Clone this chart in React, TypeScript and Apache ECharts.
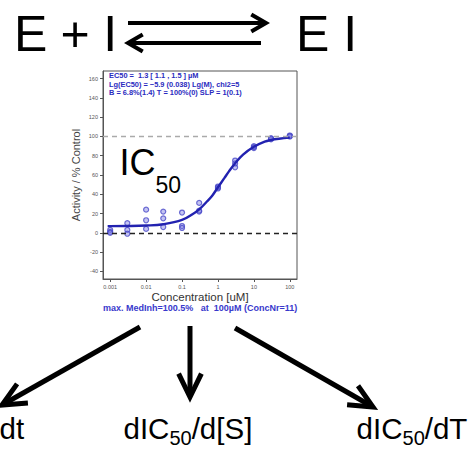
import React, { useEffect, useRef } from 'react';
import * as echarts from 'echarts';

// ---- data ----
const concentrations = [0.001, 0.003, 0.01, 0.03, 0.1, 0.3, 1, 3, 10, 30, 100];
const replicateA = [3, 10, 24, 22, 21, 31, 46, 75, 88, 98, 100.5];
const replicateB = [1, 3, 13, 15, 7, 22, 48, 68, 90, 97, 101];
const replicateC = [0, -1, 4, 6, 5, 23, 47, 72, 89, 98, 100];

const fitConc = [0.00085, 0.001, 0.003, 0.01, 0.03, 0.1, 0.2, 0.3, 0.5, 0.7, 1, 1.5, 2, 3, 5, 10, 20, 30, 50, 100];
const fitActivity = [6.9, 6.9, 7.0, 7.5, 8.9, 13.3, 19.5, 24.3, 32.7, 38.8, 47.3, 56.7, 63.5, 72.2, 81.2, 89.3, 94.6, 96.3, 97.6, 98.8];

const yTicks = [-40, -20, 0, 20, 40, 60, 80, 100, 120, 140, 160];
const xTickConc = [0.001, 0.01, 0.1, 1, 10, 100];
const xTickLabels = ['0.001', '0.01', '0.1', '1', '10', '100'];
const refLines = [0, 100];

const infoLines = [
  'EC50 =  1.3 [ 1.1 , 1.5 ] µM',
  'Lg(EC50) = −5.9 (0.038) Lg(M), chi2=5',
  'B = 6.8%(1.4) T = 100%(0) SLP = 1(0.1)',
];
const footerText = 'max. MedInh=100.5%   at  100µM (ConcNr=11)';

const FONT = '"Liberation Sans", Arial, Helvetica, sans-serif';
const BLUE = '#2a2ac0';

let measureCtx: CanvasRenderingContext2D | null = null;
function textWidth(t: string, size: number): number {
  if (!measureCtx) measureCtx = document.createElement('canvas').getContext('2d');
  if (!measureCtx) return t.length * size * 0.55;
  measureCtx.font = `${size}px "Liberation Sans", Arial, sans-serif`;
  return measureCtx.measureText(t).width;
}

// text positioned by its alphabetic baseline
function txt(t: string, x: number, baseline: number, size: number, extra: any = {}) {
  return {
    type: 'text',
    x,
    y: baseline - 0.3465 * size,
    style: {
      text: t,
      fontSize: size,
      fontFamily: FONT,
      fill: '#000',
      align: 'left',
      verticalAlign: 'middle',
      ...extra,
    },
  };
}

// pieces: [text, size, baselineShift]
function richRun(pieces: [string, number, number][], x: number, baseline: number) {
  let cx = x;
  const out: any[] = [];
  pieces.forEach((p) => {
    out.push(txt(p[0], cx, baseline + p[2], p[1]));
    cx += textWidth(p[0], p[1]);
  });
  return out;
}

function arrow(x1: number, y1: number, x2: number, y2: number, w: number, head: number, halfDeg: number) {
  const ang = Math.atan2(y1 - y2, x1 - x2);
  const h = (halfDeg * Math.PI) / 180;
  const p1 = [x2 + head * Math.cos(ang + h), y2 + head * Math.sin(ang + h)];
  const p2 = [x2 + head * Math.cos(ang - h), y2 + head * Math.sin(ang - h)];
  const back = w * 0.6;
  return [
    {
      type: 'line',
      shape: { x1, y1, x2: x2 + back * Math.cos(ang), y2: y2 + back * Math.sin(ang) },
      style: { stroke: '#000', lineWidth: w },
    },
    {
      type: 'polyline',
      shape: { points: [p1, [x2, y2], p2] },
      style: { stroke: '#000', lineWidth: w, fill: null, lineJoin: 'miter' },
    },
  ];
}

export default function App() {
  const ref = useRef<HTMLDivElement>(null);

  useEffect(() => {
    if (!ref.current) return;
    const chart = echarts.init(ref.current, null, { renderer: 'svg' });

    const points: [number, number][] = [];
    [replicateA, replicateB, replicateC].forEach((rep) => {
      rep.forEach((v, i) => points.push([Math.log10(concentrations[i]), v]));
    });
    const fit = fitConc.map((c, i) => [Math.log10(c), fitActivity[i]]);

    const graphics: any[] = [
      // equilibrium
      txt('E', 14, 51.7, 50),
      txt('+', 60.5, 51.7, 50),
      txt('I', 103.3, 51.7, 50),
      txt('E', 296, 51.7, 50),
      txt('I', 343.3, 51.7, 50),
      ...arrow(128, 23, 266, 23, 4, 17, 30),
      ...arrow(261, 43, 128, 43, 4, 17, 30),
      // IC50
      ...richRun([['IC', 36, 0], ['50', 23, 18]], 119.5, 175),
      // info text in plot
      ...infoLines.map((l, i) => txt(l, 109, 78.5 + i * 8.2, 7.4, { fill: BLUE, fontWeight: 'bold' })),
      txt(footerText, 103, 311.5, 9, { fill: '#3838cc', fontWeight: 'bold' }),
      // bottom arrows
      ...arrow(140, 327, 2, 405, 5, 26, 25),
      ...arrow(190, 326, 190, 397, 5, 26, 26),
      ...arrow(235, 328, 373, 407, 5, 26, 25),
      // bottom labels
      txt('dt', -0.5, 438.3, 29.5),
      ...richRun([['dIC', 29.5, 0], ['50', 20, 6.7], ['/d[S]', 29.5, 0]], 123.5, 438.3),
      ...richRun([['dIC', 29.5, 0], ['50', 20, 6.7], ['/dT', 29.5, 0]], 356.6, 438.3),
    ];

    const option: any = {
      animation: false,
      backgroundColor: '#fff',
      grid: {
        left: 103,
        top: 71,
        width: 194,
        height: 208,
        show: true,
        borderColor: '#555',
        borderWidth: 1,
        backgroundColor: 'transparent',
      },
      xAxis: {
        type: 'value',
        min: -3.2,
        max: 2.2,
        name: 'Concentration [uM]',
        nameLocation: 'middle',
        nameGap: 12,
        nameTextStyle: { fontSize: 11.5, color: '#333', fontFamily: FONT },
        axisLine: { show: true, onZero: false, lineStyle: { color: '#555', width: 1 } },
        axisTick: {
          show: true,
          length: 3,
          inside: false,
          customValues: xTickConc.map((c) => Math.log10(c)),
          lineStyle: { color: '#555' },
        },
        axisLabel: {
          show: true,
          fontSize: 5.5,
          color: '#555',
          fontFamily: FONT,
          margin: 5,
          customValues: xTickConc.map((c) => Math.log10(c)),
          formatter: (v: number) => {
            const i = xTickConc.findIndex((c) => Math.abs(Math.log10(c) - v) < 1e-6);
            return i >= 0 ? xTickLabels[i] : '';
          },
        },
        splitLine: { show: false },
      },
      yAxis: {
        type: 'value',
        min: -48,
        max: 168,
        name: 'Activity / % Control',
        nameLocation: 'middle',
        nameGap: 22,
        nameRotate: 90,
        nameTextStyle: { fontSize: 11, color: '#444', fontFamily: FONT },
        axisLine: { show: true, onZero: false, lineStyle: { color: '#555', width: 1 } },
        axisTick: { show: true, length: 3, customValues: yTicks, lineStyle: { color: '#555' } },
        axisLabel: {
          show: true,
          fontSize: 5.5,
          color: '#555',
          fontFamily: FONT,
          margin: 5,
          customValues: yTicks,
        },
        splitLine: { show: false },
      },
      series: [
        {
          type: 'scatter',
          data: points,
          symbol: 'circle',
          symbolSize: 5,
          itemStyle: { color: 'rgba(120,120,225,0.55)', borderColor: '#4a4ac8', borderWidth: 1.2 },
          z: 2,
          markLine: {
            silent: true,
            symbol: ['none', 'none'],
            label: { show: false },
            data: [
              { yAxis: refLines[0], lineStyle: { color: '#222', type: [5, 4], width: 1.4 } },
              { yAxis: refLines[1], lineStyle: { color: '#aaa', type: [5, 4], width: 1.4 } },
            ],
          },
        },
        {
          type: 'line',
          data: fit,
          smooth: 0.4,
          symbol: 'none',
          lineStyle: { color: '#2222b0', width: 2.4 },
          z: 3,
        },
      ],
      graphic: graphics,
    };

    chart.setOption(option);
    return () => chart.dispose();
  }, []);

  return (
    <div
      ref={ref}
      style={{ position: 'absolute', left: 0, top: 0, width: 471, height: 456, background: '#fff' }}
    />
  );
}
